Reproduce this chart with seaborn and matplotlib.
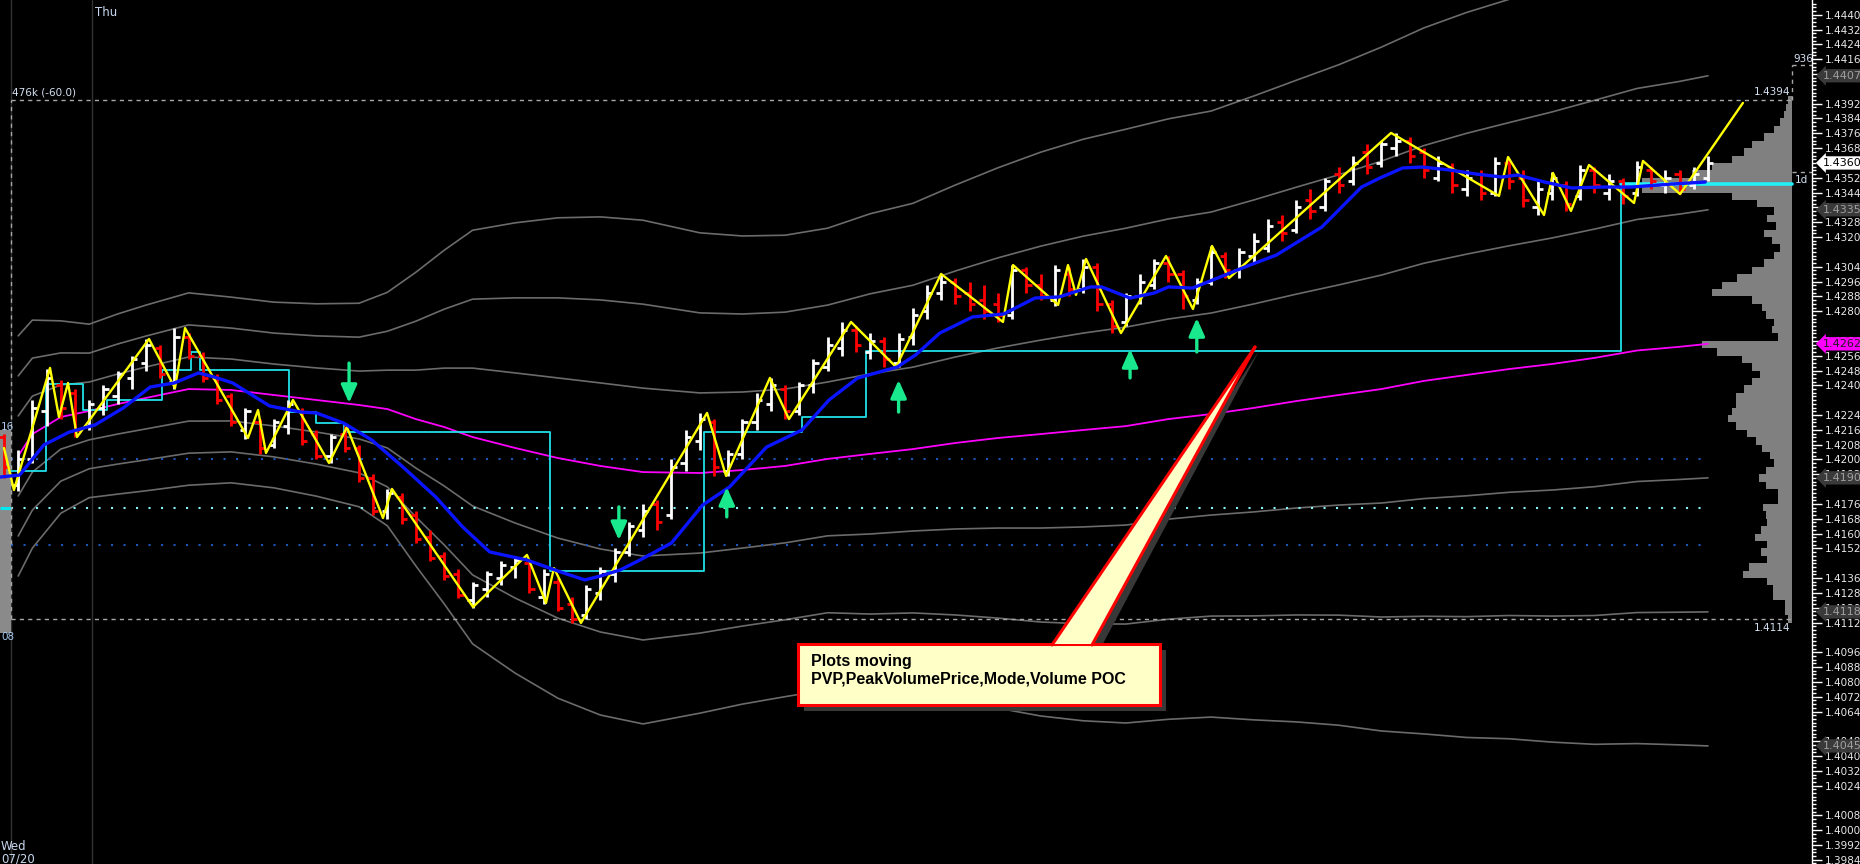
import numpy as np
import pandas as pd
import matplotlib
matplotlib.use("Agg")
import matplotlib.pyplot as plt
import matplotlib.transforms as mtransforms
from matplotlib.patches import Polygon, Rectangle
from matplotlib.lines import Line2D
from matplotlib.ticker import MultipleLocator
import seaborn as sns

# ---- price bars (one slot per bar, left to right) ----
bar_open = [1.4212, 1.4186, 1.4200, 1.4226, 1.4240, 1.4236, 1.4218, 1.4228, 1.4234, 1.4244,
            1.4252, 1.4260, 1.4242, 1.4266, 1.4256, 1.4244, 1.4234, 1.4216, 1.4220, 1.4208,
            1.4218, 1.4226, 1.4214, 1.4202, 1.4214, 1.4206, 1.4190, 1.4172, 1.4180, 1.4170,
            1.4158, 1.4148, 1.4138, 1.4124, 1.4130, 1.4136, 1.4142, 1.4144, 1.4126, 1.4134,
            1.4122, 1.4116, 1.4128, 1.4138, 1.4150, 1.4162, 1.4176, 1.4170, 1.4198, 1.4210,
            1.4220, 1.4194, 1.4203, 1.4220, 1.4230, 1.4238, 1.4226, 1.4240, 1.4250, 1.4260,
            1.4270, 1.4258, 1.4264, 1.4252, 1.4266, 1.4280, 1.4290, 1.4296, 1.4290, 1.4286,
            1.4284, 1.4278, 1.4302, 1.4294, 1.4286, 1.4300, 1.4292, 1.4304, 1.4284, 1.4274,
            1.4288, 1.4294, 1.4306, 1.4300, 1.4286, 1.4296, 1.4310, 1.4302, 1.4310, 1.4314,
            1.4328, 1.4324, 1.4340, 1.4336, 1.4354, 1.4350, 1.4366, 1.4360, 1.4368, 1.4372,
            1.4366, 1.4352, 1.4358, 1.4346, 1.4354, 1.4344, 1.4360, 1.4352, 1.4336, 1.4344,
            1.4348, 1.4342, 1.4356, 1.4344, 1.4350, 1.4344, 1.4356, 1.4348, 1.4354, 1.4348,
            1.4352]
bar_high = [1.4214, 1.4205, 1.4232, 1.4249, 1.4243, 1.4238, 1.4232, 1.4240, 1.4248, 1.4256,
            1.4265, 1.4262, 1.4271, 1.4268, 1.4258, 1.4246, 1.4236, 1.4228, 1.4222, 1.4222,
            1.4232, 1.4228, 1.4216, 1.4214, 1.4218, 1.4208, 1.4192, 1.4184, 1.4182, 1.4172,
            1.4162, 1.4150, 1.4141, 1.4134, 1.4140, 1.4145, 1.4148, 1.4146, 1.4141, 1.4136,
            1.4126, 1.4132, 1.4142, 1.4152, 1.4166, 1.4176, 1.4178, 1.4200, 1.4216, 1.4225,
            1.4222, 1.4205, 1.4222, 1.4236, 1.4244, 1.4240, 1.4242, 1.4254, 1.4266, 1.4274,
            1.4272, 1.4268, 1.4266, 1.4268, 1.4282, 1.4294, 1.4300, 1.4298, 1.4296, 1.4294,
            1.4290, 1.4305, 1.4304, 1.4300, 1.4305, 1.4304, 1.4308, 1.4306, 1.4286, 1.4290,
            1.4300, 1.4308, 1.4310, 1.4302, 1.4298, 1.4315, 1.4312, 1.4314, 1.4322, 1.4330,
            1.4332, 1.4340, 1.4346, 1.4352, 1.4358, 1.4364, 1.4370, 1.4372, 1.4376, 1.4374,
            1.4368, 1.4364, 1.4360, 1.4356, 1.4356, 1.4363, 1.4362, 1.4356, 1.4350, 1.4355,
            1.4350, 1.4359, 1.4358, 1.4354, 1.4352, 1.4361, 1.4358, 1.4356, 1.4356, 1.4358,
            1.4364]
bar_low = [1.4190, 1.4183, 1.4198, 1.4218, 1.4222, 1.4212, 1.4216, 1.4224, 1.4230, 1.4238,
           1.4248, 1.4244, 1.4238, 1.4254, 1.4242, 1.4230, 1.4218, 1.4211, 1.4203, 1.4206,
           1.4214, 1.4208, 1.4200, 1.4198, 1.4204, 1.4188, 1.4170, 1.4168, 1.4165, 1.4155,
           1.4145, 1.4135, 1.4125, 1.4120, 1.4126, 1.4132, 1.4136, 1.4128, 1.4122, 1.4118,
           1.4112, 1.4114, 1.4124, 1.4134, 1.4148, 1.4158, 1.4162, 1.4168, 1.4194, 1.4205,
           1.4191, 1.4191, 1.4200, 1.4216, 1.4226, 1.4222, 1.4224, 1.4236, 1.4248, 1.4256,
           1.4258, 1.4254, 1.4250, 1.4250, 1.4262, 1.4276, 1.4286, 1.4284, 1.4280, 1.4276,
           1.4274, 1.4276, 1.4290, 1.4286, 1.4283, 1.4288, 1.4290, 1.4280, 1.4268, 1.4272,
           1.4284, 1.4292, 1.4296, 1.4281, 1.4284, 1.4294, 1.4298, 1.4298, 1.4306, 1.4312,
           1.4318, 1.4322, 1.4330, 1.4334, 1.4344, 1.4348, 1.4354, 1.4358, 1.4364, 1.4360,
           1.4352, 1.4350, 1.4344, 1.4342, 1.4340, 1.4342, 1.4346, 1.4336, 1.4332, 1.4340,
           1.4334, 1.4340, 1.4344, 1.4340, 1.4338, 1.4342, 1.4346, 1.4344, 1.4343, 1.4346,
           1.4350]
bar_close = [1.4196, 1.4200, 1.4228, 1.4244, 1.4228, 1.4216, 1.4230, 1.4238, 1.4246, 1.4254,
             1.4262, 1.4246, 1.4266, 1.4256, 1.4244, 1.4232, 1.4220, 1.4226, 1.4206, 1.4220,
             1.4230, 1.4210, 1.4202, 1.4212, 1.4206, 1.4190, 1.4172, 1.4182, 1.4168, 1.4157,
             1.4147, 1.4137, 1.4127, 1.4132, 1.4138, 1.4143, 1.4146, 1.4130, 1.4138, 1.4120,
             1.4114, 1.4130, 1.4140, 1.4150, 1.4164, 1.4172, 1.4166, 1.4196, 1.4212, 1.4222,
             1.4196, 1.4203, 1.4220, 1.4232, 1.4240, 1.4226, 1.4240, 1.4252, 1.4262, 1.4270,
             1.4262, 1.4264, 1.4254, 1.4265, 1.4278, 1.4290, 1.4296, 1.4288, 1.4284, 1.4280,
             1.4278, 1.4302, 1.4294, 1.4288, 1.4302, 1.4292, 1.4304, 1.4284, 1.4272, 1.4288,
             1.4296, 1.4306, 1.4300, 1.4288, 1.4296, 1.4312, 1.4302, 1.4312, 1.4318, 1.4326,
             1.4322, 1.4336, 1.4334, 1.4350, 1.4348, 1.4360, 1.4358, 1.4370, 1.4372, 1.4364,
             1.4356, 1.4360, 1.4348, 1.4352, 1.4344, 1.4360, 1.4350, 1.4340, 1.4346, 1.4352,
             1.4338, 1.4356, 1.4348, 1.4350, 1.4342, 1.4358, 1.4350, 1.4352, 1.4346, 1.4354,
             1.4360]

# ---- zigzag pivots (bar position, price) ----
zz_x = [0.0, 0.7, 3.24, 3.87, 4.51, 5.14, 10.21, 12.04, 12.75, 17.18,
        17.89, 18.45, 20.35, 22.89, 24.15, 26.69, 27.32, 33.03, 36.83, 38.17,
        38.73, 40.63, 49.51, 50.85, 53.94, 55.28, 59.65, 62.82, 65.99, 70.35,
        71.06, 74.23, 74.93, 75.49, 76.20, 78.66, 81.83, 83.73, 85.07, 86.27,
        97.68, 105.28, 105.92, 108.45, 109.08, 110.35, 111.62, 114.79, 115.42, 118.03,
        122.46]
zz_p = [1.42062, 1.41835, 1.42494, 1.42229, 1.42413, 1.42121, 1.42650, 1.42386, 1.42709, 1.42116,
        1.42267, 1.42035, 1.42321, 1.41981, 1.42175, 1.41684, 1.41841, 1.41204, 1.41485, 1.41226,
        1.41414, 1.41118, 1.42251, 1.41911, 1.42440, 1.42218, 1.42742, 1.42499, 1.43001, 1.42742,
        1.43049, 1.42834, 1.43049, 1.42888, 1.43082, 1.42682, 1.43098, 1.42812, 1.43152, 1.42979,
        1.43762, 1.43422, 1.43632, 1.43319, 1.43546, 1.43341, 1.43589, 1.43384, 1.43611, 1.43432,
        1.43924]

# ---- blue moving average ----
ma_x = [-0.3, 1.1, 2.8, 4.6, 6.4, 8.4, 10.3, 12.0, 13.7, 14.8,
        16.1, 18.7, 20.9, 22.0, 23.9, 25.9, 28.1, 30.4, 32.3, 34.2,
        36.8, 39.2, 40.9, 42.0, 43.4, 44.8, 47.0, 49.2, 51.1, 53.7,
        56.2, 58.1, 60.1, 62.9, 64.2, 65.9, 68.2, 70.4, 72.6, 74.3,
        76.5, 77.3, 79.3, 81.0, 82.0, 83.7, 85.3, 87.2, 89.6, 92.8,
        95.6, 96.9, 98.5, 99.9, 101.8, 103.7, 105.5, 106.6, 108.5, 110.4,
        112.5, 114.6, 117.4, 119.8]
ma_p = [1.41905, 1.41916, 1.42078, 1.42148, 1.42186, 1.42278, 1.42391, 1.42413, 1.42467, 1.42445,
        1.42413, 1.42289, 1.42256, 1.42251, 1.42197, 1.42105, 1.41959, 1.41798, 1.41636, 1.41501,
        1.41458, 1.41393, 1.41350, 1.41371, 1.41404, 1.41458, 1.41549, 1.41754, 1.41852, 1.42067,
        1.42159, 1.42321, 1.42439, 1.42499, 1.42564, 1.42682, 1.42769, 1.42785, 1.42871, 1.42877,
        1.42931, 1.42931, 1.42871, 1.42898, 1.42931, 1.42925, 1.42974, 1.43033, 1.43103, 1.43254,
        1.43470, 1.43519, 1.43573, 1.43578, 1.43562, 1.43540, 1.43524, 1.43535, 1.43497, 1.43465,
        1.43470, 1.43470, 1.43486, 1.43497]

# ---- moving PVP (magenta) and its deviation bands ----
band_x = [1, 2, 4, 6, 8, 10, 13, 16, 19, 22, 25, 27, 29, 31, 33, 36, 39, 42, 45, 49, 52, 55,
          58, 61, 64, 67, 70, 73, 76, 79, 82, 85, 88, 91, 94, 97, 100, 103, 106, 109, 112, 115, 118, 120]
pvp_p = [1.42019, 1.42137, 1.42229, 1.42262, 1.42299, 1.42332, 1.42380, 1.42375, 1.42348, 1.42321,
         1.42294, 1.42272, 1.42218, 1.42175, 1.42121, 1.42062, 1.42008, 1.41965, 1.41932, 1.41927,
         1.41943, 1.41965, 1.42003, 1.42030, 1.42056, 1.42089, 1.42116, 1.42137, 1.42159, 1.42180,
         1.42218, 1.42245, 1.42278, 1.42315, 1.42348, 1.42380, 1.42424, 1.42456, 1.42488, 1.42515,
         1.42548, 1.42588, 1.42608, 1.42624]
pvp_sigma = [0.00216, 0.00205, 0.00173, 0.00156, 0.00162, 0.00167, 0.00173, 0.00167, 0.00167, 0.00173,
             0.00183, 0.00210, 0.00264, 0.00318, 0.00372, 0.00405, 0.00432, 0.00448, 0.00453, 0.00432,
             0.00421, 0.00415, 0.00415, 0.00432, 0.00442, 0.00464, 0.00486, 0.00507, 0.00523, 0.00534,
             0.00540, 0.00545, 0.00561, 0.00577, 0.00594, 0.00615, 0.00635, 0.00652, 0.00665, 0.00680,
             0.00695, 0.00707, 0.00716, 0.007232]

# ---- developing POC (cyan steps) ----
poc_x = [0.49, 2.96, 5.56, 7.25, 11.13, 13.17, 13.80, 20.07, 21.97, 23.94, 38.45, 49.30, 56.20, 60.70, 113.87, 125.92]
poc_p = [1.41938, 1.42407, 1.42267, 1.42321, 1.42483, 1.42580, 1.42483, 1.42256, 1.42197, 1.42148,
         1.41398, 1.42148, 1.42229, 1.42585, 1.43486, 1.43486]

# ---- signal arrows (bar, from price, to price) ----
arrow_x = [24.3, 43.3, 50.9, 63.0, 79.3, 84.0]
arrow_from = [1.42520, 1.41744, 1.41690, 1.42256, 1.42440, 1.42580]
arrow_to = [1.42305, 1.41565, 1.41851, 1.42429, 1.42596, 1.42763]

# ---- prior session levels, session profile, sessions ----
prior_levels = [1.4200, 1.4174, 1.4154]
prior_colors = ["#1a56b8", "#8af4f4", "#1a56b8"]
prof_high, prof_low = 1.4394, 1.4114
prof_levels = np.round(np.arange(1.4114, 1.4395, 0.0004), 4)
prof_volume = [4, 7, 7, 19, 19, 25, 49, 43, 25, 31,
               25, 37, 31, 25, 26, 29, 14, 14, 26, 33,
               26, 18, 22, 30, 36, 45, 56, 64, 60, 56,
               56, 48, 40, 32, 40, 50, 75, 90, 14, 20,
               18, 26, 30, 40, 80, 70, 55, 40, 28, 18,
               12, 20, 28, 16, 25, 18, 35, 60, 150, 150,
               100, 80, 60, 48, 40, 28, 18, 12, 8, 6,
               4]
prof_peak_label = "936"
prof_peak_p = 1.44129
day_mark_p = 1.43551
session_x = [0.49, 6.2]
prev_prof_low, prev_prof_high = 1.41064, 1.42157
prev_prof_labels = ["16", "08"]
tick_vals = [1.4440, 1.4432, 1.4424, 1.4416, 1.4408, 1.4392, 1.4384, 1.4376, 1.4368, 1.4352,
             1.4344, 1.4336, 1.4328, 1.4320, 1.4304, 1.4296, 1.4288, 1.4280, 1.4264, 1.4256,
             1.4248, 1.4240, 1.4224, 1.4216, 1.4208, 1.4200, 1.4192, 1.4176, 1.4168, 1.4160,
             1.4152, 1.4136, 1.4128, 1.4120, 1.4112, 1.4096, 1.4088, 1.4080, 1.4072, 1.4064,
             1.4048, 1.4040, 1.4032, 1.4024, 1.4008, 1.4000, 1.3992, 1.3984]
callout_x, callout_p = 88.1, 1.42607
callout_text = "Plots moving\nPVP,PeakVolumePrice,Mode,Volume POC"

sns.set_theme(style="dark", rc={"axes.facecolor": "black", "figure.facecolor": "black"})
plt.rcParams["font.family"] = ["DejaVu Sans"]

W, H = 1860, 864
fig = plt.figure(figsize=(W / 100, H / 100), dpi=100, facecolor="black")

ymin, ymax = 1.398172, 1.444793
slot_px, first_px, scale_px = 14.2, 4, 1812
xmin, xmax = -first_px / slot_px, (scale_px - first_px) / slot_px
prof_right = (1792 - first_px) / slot_px

# volume profile panel, drawn behind the price panel
axp = fig.add_axes([1492 / W, 0, 300 / W, 1])
axp.set_zorder(0)
axp.barh(prof_levels, prof_volume, height=0.0004, color="#808080", edgecolor="none")
axp.set_xlim(300, 0)
axp.set_ylim(ymin, ymax)
axp.axis("off")

ax = fig.add_axes([0, 0, scale_px / W, 1])
ax.set_zorder(1)
ax.patch.set_visible(False)

# sessions
for sx in session_x:
    ax.axvline(sx, color="#333333", lw=1, zorder=1)
ax.fill_between([xmin, session_x[0]], prev_prof_low, prev_prof_high, color="#8a8a8a", lw=0, zorder=1)
ax.hlines(prior_levels[1], xmin, session_x[0], color="#00e8f0", lw=2.2, zorder=2)

# deviation bands
pvp = np.array(pvp_p)
sig = np.array(pvp_sigma)
for k in (3, 2, 1, -1, -2, -3):
    ax.plot(band_x, pvp + k * sig, color="#6b6b6b", lw=1.2, zorder=2)

# prior levels
dots = (0, (1, 5))
for lev, col in zip(prior_levels, prior_colors):
    ax.hlines(lev, session_x[0], len(bar_close) - 1, colors=col, lw=1.5, linestyles=dots, zorder=2)

# profile frame
dash = (0, (3, 3))
ax.hlines([prof_high, prof_low], session_x[0], prof_right, colors="#a8a8a8", lw=1, linestyles=dash, zorder=2)
ax.vlines(session_x[0], prof_low, prof_high, colors="#a8a8a8", lw=1, linestyles=dash, zorder=2)
ax.vlines(prof_right, prof_high, prof_peak_p, colors="#a8a8a8", lw=1, linestyles=dash, zorder=2)
ax.hlines([prof_peak_p, day_mark_p], prof_right, xmax, colors="#a8a8a8", lw=1, linestyles=dash, zorder=2)

# magenta PVP and cyan POC
sns.lineplot(x=band_x, y=pvp_p, ax=ax, color="#ff00ff", lw=1.3, sort=False, estimator=None, zorder=3)
ax.step(poc_x[:-1], poc_p[:-1], where="post", color="#22e0e8", lw=1.3, zorder=3)
ax.plot(poc_x[-2:], poc_p[-2:], color="#22f0f8", lw=2.6, zorder=3)

# OHLC bars
bars = pd.DataFrame({"o": bar_open, "h": bar_high, "l": bar_low, "c": bar_close})
bars["x"] = np.arange(len(bars))
cols = np.where(bars["c"] >= bars["o"], "#ffffff", "#ff0000")
tick = 0.36
ax.vlines(bars["x"], bars["l"], bars["h"], colors=cols, lw=2.0, zorder=4)
ax.hlines(bars["o"], bars["x"] - tick, bars["x"], colors=cols, lw=2.0, zorder=4)
ax.hlines(bars["c"], bars["x"], bars["x"] + tick, colors=cols, lw=2.0, zorder=4)

# zigzag and moving average
sns.lineplot(x=zz_x, y=zz_p, ax=ax, color="#ffff00", lw=1.7, sort=False, estimator=None, zorder=5)
sns.lineplot(x=ma_x, y=ma_p, ax=ax, color="#0a14ff", lw=2.4, sort=False, estimator=None, zorder=6)

# signal arrows
for x, a, b in zip(arrow_x, arrow_from, arrow_to):
    ax.annotate("", xy=(x, b), xytext=(x, a),
                arrowprops=dict(arrowstyle="-|>,head_length=0.9,head_width=0.4",
                                color="#19e88c", lw=2.4, shrinkA=0, shrinkB=0), zorder=7)

ax.set_xlim(xmin, xmax)
ax.set_ylim(ymin, ymax)
ax.set_xlabel("")
ax.set_ylabel("")
ax.set_xticks([])
ax.yaxis.tick_right()
ax.set_yticks(tick_vals)
ax.set_yticklabels([f"{v:.4f}" for v in tick_vals])
ax.yaxis.set_minor_locator(MultipleLocator(0.0002))
ax.tick_params(axis="y", which="major", direction="out", length=7, width=1, color="white",
               labelcolor="#e8e8e8", labelsize=7.5, pad=2)
ax.tick_params(axis="y", which="minor", direction="out", length=3, width=1, color="white")
for side in ("left", "top", "bottom"):
    ax.spines[side].set_visible(False)
ax.spines["right"].set_color("white")
ax.spines["right"].set_linewidth(1)

# small labels
lab = "#d4e0f0"
ax.annotate("476k (-60.0)", xy=(session_x[0], prof_high), xytext=(1, 2), textcoords="offset points",
            color=lab, size=7.5, ha="left", va="bottom")
ax.annotate(f"{prof_high:.4f}", xy=(prof_right, prof_high), xytext=(-1, 2), textcoords="offset points",
            color=lab, size=7.5, ha="right", va="bottom")
ax.annotate(f"{prof_low:.4f}", xy=(prof_right, prof_low), xytext=(-1, -3), textcoords="offset points",
            color=lab, size=7.5, ha="right", va="top")
ax.annotate(prof_peak_label, xy=(prof_right, prof_peak_p), xytext=(1, 1), textcoords="offset points",
            color=lab, size=7.5, ha="left", va="bottom")
ax.annotate("1d", xy=(prof_right, day_mark_p), xytext=(2, -2), textcoords="offset points",
            color=lab, size=7.5, ha="left", va="top")
ax.annotate("Thu", xy=(session_x[1], 1), xycoords=("data", "axes fraction"), xytext=(2, -4),
            textcoords="offset points", color="#c8d8f0", size=8.5, ha="left", va="top")
fig.text(1 / W, 17 / H, "Wed", color="#c8d8f0", size=8.5, ha="left", va="center")
fig.text(1 / W, 5 / H, "07/20", color="#c8d8f0", size=8.5, ha="left", va="center")
blend_l = mtransforms.blended_transform_factory(fig.transFigure, ax.transData)
ax.text(1 / W, prev_prof_high + 0.0002, prev_prof_labels[0], transform=blend_l, color="#a8c8f0",
        size=7.5, ha="left", va="center")
ax.text(1 / W, prev_prof_low - 0.0002, prev_prof_labels[1], transform=blend_l, color="#a8c8f0",
        size=7.5, ha="left", va="center")

# price tags on the scale
tags = [(bar_close[-1], "#ffffff", "#000000")]
tags.append((pvp[-1], "#ff00ff", "#202020"))
for k in (2, 1, -1, -2, -3):
    tags.append((pvp[-1] + k * sig[-1], "#3a3a3a", "#a0a0a0"))
for val, fc, tc in tags:
    ax.text(1823 / W, val, f"{val:.4f}", transform=blend_l, color=tc, size=8, ha="left", va="center",
            bbox=dict(boxstyle="larrow,pad=0.15", fc=fc, ec="none"), zorder=10, clip_on=False)

# callout
ident = mtransforms.IdentityTransform()
tip = ax.transData.transform((callout_x, callout_p))
bx0, by0, bw, bh = 798, H - 705, 362, 61
wl, wr, wy = 1052, 1092, H - 647
fig.add_artist(Rectangle((bx0 + 6, by0 - 6), bw, bh, transform=ident, fc="#383838", ec="none", zorder=8))
fig.add_artist(Polygon([(wl + 6, wy - 6), (wr + 6, wy - 6), (tip[0] + 4, tip[1] - 4)], closed=True,
                       transform=ident, fc="#383838", ec="none", zorder=8))
fig.add_artist(Rectangle((bx0, by0), bw, bh, transform=ident, fc="#ffffc8", ec="#ff0000", lw=2.2, zorder=9))
fig.add_artist(Polygon([(wl, wy + 3), (wr, wy + 3), tuple(tip)], closed=True, transform=ident,
                       fc="#ffffc8", ec="none", zorder=9))
fig.add_artist(Line2D([wl, tip[0]], [wy + 2, tip[1]], transform=ident, color="#ff0000", lw=2.2, zorder=9))
fig.add_artist(Line2D([wr, tip[0]], [wy + 2, tip[1]], transform=ident, color="#ff0000", lw=2.2, zorder=9))
fig.text(811 / W, (H - 654) / H, callout_text, family="Liberation Sans", weight="bold", size=11.5,
         color="black", ha="left", va="top", linespacing=1.2, zorder=10)

fig.savefig("out.png", dpi=100, facecolor="black")
